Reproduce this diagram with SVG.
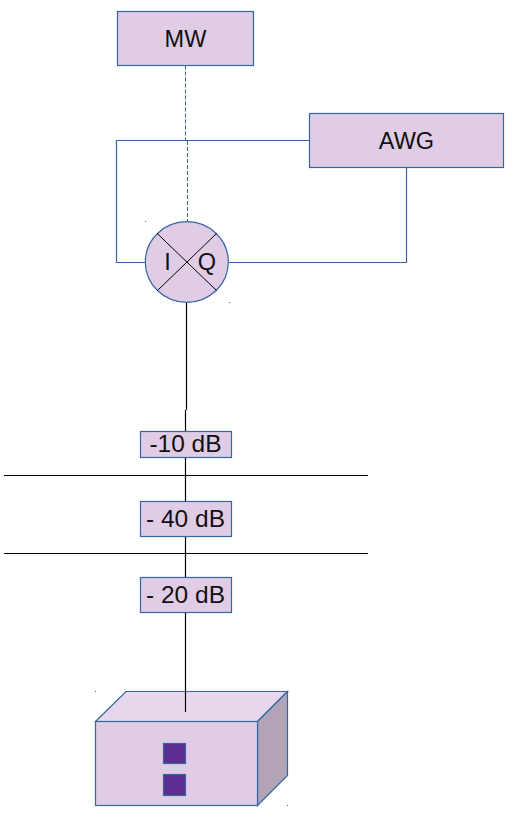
<svg xmlns="http://www.w3.org/2000/svg" width="516" height="828" viewBox="0 0 516 828">
<style>
.n{fill:#e0cce4;stroke:#3465a4;stroke-width:1.2}
.t{font-family:"Liberation Sans",Arial,sans-serif;font-size:23.5px;fill:#111;text-anchor:middle}
.v{font-size:24.500px}
.b{fill:none;stroke:#3465a4;stroke-width:1.2}
.d{fill:none;stroke:#3465a4;stroke-width:1;stroke-dasharray:4 2}
.k{fill:none;stroke:#000;stroke-width:1.2}
.p{fill:#5c2d91;stroke:#3465a4;stroke-width:1.2}
.o{fill:#3465a4}
</style>
<rect width="516" height="828" fill="#fff"/>
<g id="connectors">
<path class="d" d="M185.500 65.500V141"/>
<path class="d" d="M187.500 141V222"/>
<path class="b" d="M309.500 140.500H116.500V262.500H145.500"/>
<path class="b" d="M406.500 167.500V262.500H229"/>
<path class="k" d="M186.500 303V410"/>
<path class="k" d="M185.500 410V712"/>
<path class="k" d="M4 475.500H368"/>
<path class="k" d="M4 553.500H368"/>
</g>
<g id="node-mw">
<rect class="n" x="117.500" y="11.500" width="136" height="54"/>
<text class="t" x="185.500" y="47">MW</text>
</g>
<g id="node-awg">
<rect class="n" x="309.500" y="113.500" width="194" height="54"/>
<text class="t" x="406.500" y="149">AWG</text>
</g>
<g id="node-iq">
<ellipse class="n" cx="186.800" cy="262" rx="41.500" ry="40.300"/>
<path class="k" style="stroke-width:1" d="M157 233.300L216.700 290.700M216.700 233.300L157.300 290.700"/>
<text class="t" x="167.500" y="270">I</text>
<text class="t" x="206.800" y="270">Q</text>
<rect class="o" x="145" y="221" width="1" height="1"/>
<rect class="o" x="229" y="302" width="1" height="1"/>
</g>
<g id="node-10db">
<rect class="n" x="140.500" y="431.500" width="91" height="26"/>
<text class="t v" x="185.500" y="452">-10 dB</text>
</g>
<g id="node-40db">
<rect class="n" x="140.500" y="501.500" width="91" height="35"/>
<text class="t v" x="185.500" y="527">- 40 dB</text>
</g>
<g id="node-20db">
<rect class="n" x="140.500" y="577.500" width="91" height="35"/>
<text class="t v" x="185.500" y="603">- 20 dB</text>
</g>
<g id="node-box">
<path d="M95.500 721.500L126 691.500H287.500L257.500 721.500Z" fill="#e6d7ea" stroke="#3465a4" stroke-width="1.200"/>
<path d="M257.500 721.500L287.500 691.500V775.500L257.500 805.500Z" fill="#b2a3b6" stroke="#3465a4" stroke-width="1.200"/>
<rect class="n" x="95.500" y="721.500" width="162" height="84"/>
<path class="k" d="M185.500 691V712"/>
<rect class="p" x="163.500" y="743.500" width="22" height="20"/>
<rect class="p" x="163.500" y="774.500" width="22" height="21"/>
<rect class="o" x="95" y="691" width="1" height="1"/>
<rect class="o" x="287" y="805" width="1" height="1"/>
</g>
</svg>
